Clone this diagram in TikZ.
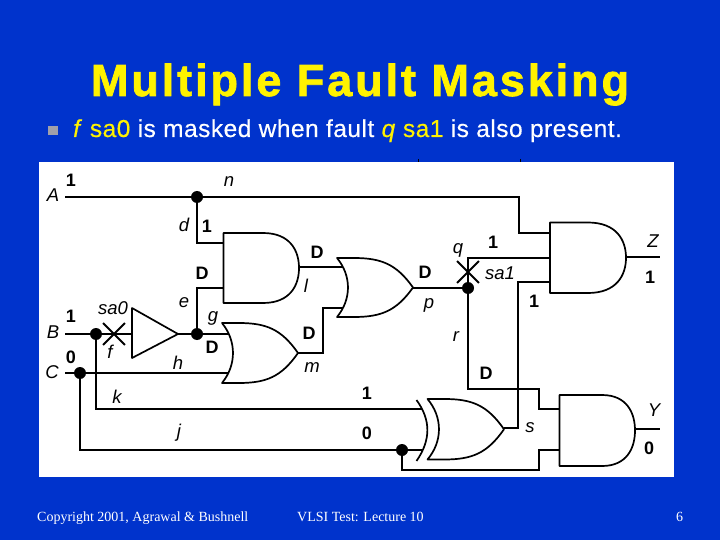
\documentclass[tikz,border=0pt]{standalone}
\usepackage{fontspec}
\setmainfont{Liberation Sans}
\newfontfamily\serifface{Liberation Serif}
\newfontfamily\titleface[LetterSpace=6.5,FakeBold=1.6]{Liberation Sans Bold}
\newfontfamily\pointface[LetterSpace=2,FakeBold=0.4,ItalicFeatures={FakeBold=0.4}]{Liberation Sans}
\usetikzlibrary{shapes.misc}
\definecolor{slideblue}{RGB}{0,51,204}
\definecolor{bulletgrey}{RGB}{160,160,170}
\tikzset{font=\fontsize{16}{18}\selectfont}
\tikzset{wire/.style={line width=1.5pt,line cap=butt}}
\tikzset{gate/.style={line width=1.7pt,fill=white,line join=round}}
\tikzset{junction/.style={circle,fill=black,inner sep=0pt,minimum size=12pt}}
\tikzset{faultx/.style={cross out,draw=black,line width=1.8pt,inner sep=0pt,minimum size=20pt}}
\tikzset{lab/.style={inner sep=0pt,font=\fontsize{18.5}{20}\selectfont\itshape}}
\tikzset{val/.style={inner sep=0pt,font=\fontsize{18}{18}\selectfont\bfseries}}
\tikzset{foot/.style={inner sep=0pt,anchor=base west,text=white,font=\fontsize{14}{16}\selectfont\serifface}}
\begin{document}
\begin{tikzpicture}[x=1pt,y=-1pt]
  \useasboundingbox (0,0) rectangle (720,540);
  \fill[slideblue] (0,0) rectangle (720,540);
  \fill[white] (39,162) rectangle (674,477);
  \draw[thin] (418,159)--(418,162) (520,159)--(520,162);
  % headline and bullet
  \node[inner sep=0pt,anchor=base,text=yellow,font=\fontsize{45}{47}\selectfont\titleface] (title) at (360,96) {Multiple Fault Masking};
  \fill[bulletgrey] (48,126) rectangle (58,135);
  \node[inner sep=0pt,anchor=base west,text=white,font=\fontsize{24.5}{26}\selectfont\pointface] (point) at (73,137)
  {\textcolor{yellow}{\textit{f} sa0} is masked when fault \textcolor{yellow}{\textit{q} sa1} is also present.};
  \node[foot] (copy) at (37,521) {Copyright 2001, Agrawal \& Bushnell};
  \node[foot] (talk) at (297,521) {VLSI Test: Lecture 10};
  \node[foot] (page) at (676,521) {6};
  % pins
  \coordinate (A) at (65,197);
  \coordinate (B) at (65,334);
  \coordinate (C) at (65,373);
  \coordinate (ldin) at (223,243);
  \coordinate (lein) at (223,288);
  \coordinate (lout) at (299,267);
  \coordinate (buf) at (140,334);
  \coordinate (orh) at (228,373);
  \coordinate (org) at (228,334);
  \coordinate (mout) at (298,353);
  \coordinate (porl) at (346,267);
  \coordinate (porm) at (346,308);
  \coordinate (pout) at (413,288);
  \coordinate (zn) at (550,233);
  \coordinate (zq) at (550,258);
  \coordinate (zs) at (550,282);
  \coordinate (zout) at (626,257);
  \coordinate (Z) at (660,257);
  \coordinate (xk) at (422,409);
  \coordinate (xj) at (423,450);
  \coordinate (xout) at (504,428);
  \coordinate (yr) at (559,409);
  \coordinate (yj) at (559,450);
  \coordinate (yout) at (635,429);
  \coordinate (Y) at (660,429);
  \coordinate (bufout) at (178,334);
  % fanouts
  \node[junction] (dn) at (197,197) {};
  \node[junction] (de) at (197,334) {};
  \node[junction] (dk) at (96,334) {};
  \node[junction] (dj) at (80,373) {};
  \node[junction] (dq) at (468,288) {};
  \node[junction] (dy) at (402,450) {};
  % wires
  \draw[wire] (A)--(dn)--(519,197)|-(zn);
  \draw[wire] (dn)|-(ldin);
  \draw[wire] (de)|-(lein);
  \draw[wire] (B)--(dk)--(buf);
  \draw[wire] (bufout)--(de)--(org);
  \draw[wire] (C)--(dj)--(orh);
  \draw[wire] (dk)|-(xk);
  \draw[wire] (dj)|-(dy)--(xj);
  \draw[wire] (lout)--(porl);
  \draw[wire] (mout)-|(323,308)--(porm);
  \draw[wire] (pout)--(dq);
  \draw[wire] (dq)|-(zq);
  \draw[wire] (dq)--(468,389)-|(539,409)--(yr);
  \draw[wire] (xout)-|(518,282)--(zs);
  \draw[wire] (dy)--(402,470)-|(539,450)--(yj);
  \draw[wire] (zout)--(Z);
  \draw[wire] (yout)--(Y);
  % and gates: left, top, bottom, start of arc, tip
  \foreach \xl/\yt/\yb/\xs/\xa in {223.5/233/303/263/299,550/222.5/293/588/626,559.5/395/466/602/635}
  \draw[gate] (\xl,\yt)--(\xs,\yt) .. controls ({\xs+.75*(\xa-\xs)},\yt) and (\xa,{\yt+.25*(\yb-\yt)}) .. (\xa,{(\yt+\yb)/2})
  .. controls (\xa,{\yb-.25*(\yb-\yt)}) and ({\xs+.75*(\xa-\xs)},\yb) .. (\xs,\yb)--(\xl,\yb)--cycle;
  % or gates: left, top, bottom, back curve depth, tip
  \foreach \xl/\yt/\yb/\xm/\xa in {222/323/383/233/298,337/258/317/348/413,427.5/399/459.5/439/504}
  \draw[gate] (\xl,\yt)--({\xl+.22*(\xa-\xl)},\yt) .. controls ({\xl+.58*(\xa-\xl)},\yt) and ({\xl+.78*(\xa-\xl)},{\yt+.1*(\yb-\yt)}) .. (\xa,{(\yt+\yb)/2})
  .. controls ({\xl+.78*(\xa-\xl)},{\yb-.1*(\yb-\yt)}) and ({\xl+.58*(\xa-\xl)},\yb) .. ({\xl+.22*(\xa-\xl)},\yb)--(\xl,\yb)
  .. controls ({\xl+1.33*(\xm-\xl)},{\yb-.3*(\yb-\yt)}) and ({\xl+1.33*(\xm-\xl)},{\yt+.3*(\yb-\yt)}) .. cycle;
  \draw[gate,fill=none] (416.5,400) .. controls (431,420) and (431,440) .. (416.5,461);
  \draw[gate] (132,308)--(178,334)--(132,358)--cycle;
  % faults
  \node[faultx] (faultf) at (114,334) {};
  \node[faultx] (faultq) at (468,272) {};
  % names
  \node[lab] (nameA) at (53,195) {A};
  \node[lab] (nameB) at (53,332) {B};
  \node[lab] (nameC) at (52,372) {C};
  \node[lab] (namen) at (229,182) {n};
  \node[lab] (named) at (184,225) {d};
  \node[lab] (namee) at (184,303) {e};
  \node[lab] (namef) at (110,352) {f};
  \node[lab] (nameg) at (213,318) {g};
  \node[lab] (nameh) at (178,363) {h};
  \node[lab] (namej) at (179,433) {j};
  \node[lab] (namek) at (117,397) {k};
  \node[lab] (namel) at (306,286) {l};
  \node[lab] (namem) at (312,368) {m};
  \node[lab] (namep) at (429,305) {p};
  \node[lab] (nameq) at (458,250) {q};
  \node[lab] (namer) at (456,337) {r};
  \node[lab] (names) at (530,428) {s};
  \node[lab] (nameZ) at (653,241) {Z};
  \node[lab] (nameY) at (654,410) {Y};
  \node[lab] (sazero) at (113,308) {sa0};
  \node[lab] (saone) at (500,273) {sa1};
  % values
  \foreach \x/\y/\v in {71/180/1,207/226/1,202/273/D,317/252/D,71/316/1,71/357/0,212/347/D,309/333/D,425/272/D,493/242/1,534/301/1,650/277/1,486/373/D,367/393/1,367/433/0,649/448/0}
  \node[val] at (\x,\y) {\v};
\end{tikzpicture}
\end{document}
